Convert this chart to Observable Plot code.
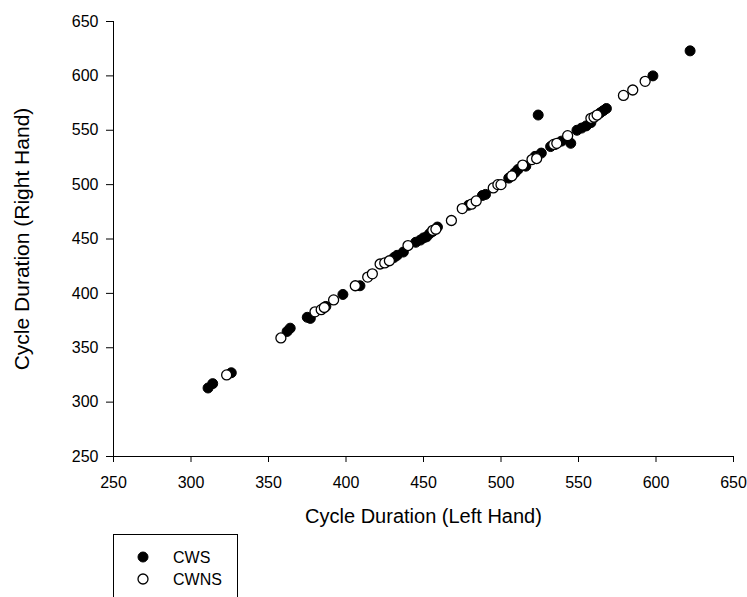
<!DOCTYPE html>
<html>
<head>
<meta charset="utf-8">
<script src="https://cdn.jsdelivr.net/npm/d3@7"></script>
<script src="https://cdn.jsdelivr.net/npm/@observablehq/plot@0.6"></script>
<style>
  html, body { margin: 0; padding: 0; background: #fff; }
  #chart { position: relative; width: 747px; height: 597px; overflow: hidden; }
</style>
</head>
<body>
<div id="chart"></div>
<script>
// ---- Data ----
const seriesNames = ["CWS", "CWNS"];
const xTicks = [250, 300, 350, 400, 450, 500, 550, 600, 650];
const yTicks = [250, 300, 350, 400, 450, 500, 550, 600, 650];
const xTitle = "Cycle Duration (Left Hand)";
const yTitle = "Cycle Duration (Right Hand)";

const cwsLeft  = [311, 314, 326, 362, 364, 375, 377, 387, 398, 409, 431, 433, 437, 445, 448, 450, 452, 454, 456, 459, 479, 488, 490, 505, 509, 511, 516, 522, 526, 524, 532, 535, 539, 545, 549, 552, 555, 558, 564, 566, 568, 598, 622];
const cwsRight = [313, 317, 327, 365, 368, 378, 377, 388, 399, 407, 433, 435, 438, 447, 449, 451, 452, 455, 457, 461, 481, 490, 491, 506, 511, 514, 517, 526, 529, 564, 535, 537, 540, 538, 550, 552, 554, 557, 566, 568, 570, 600, 623];

const cwnsLeft  = [323, 358, 380, 384, 386, 392, 406, 414, 417, 422, 425, 428, 440, 456, 458, 468, 475, 481, 484, 495, 498, 500, 507, 514, 520, 523, 534, 536, 543, 558, 560, 562, 579, 585, 593];
const cwnsRight = [325, 359, 383, 385, 387, 394, 407, 415, 418, 427, 428, 430, 444, 458, 459, 467, 478, 482, 485, 497, 500, 500, 508, 518, 523, 524, 537, 538, 545, 561, 562, 564, 582, 587, 595];

const cws  = cwsLeft.map((l, i) => ({left: l, right: cwsRight[i]}));
const cwns = cwnsLeft.map((l, i) => ({left: l, right: cwnsRight[i]}));

const FONT = "'Liberation Sans', Arial, Helvetica, sans-serif";

const plot = Plot.plot({
  width: 747,
  height: 597,
  marginLeft: 113,
  marginRight: 14,
  marginTop: 21,
  marginBottom: 141,
  style: {fontFamily: FONT, fontSize: "16px", color: "#000", background: "#fff"},
  x: {domain: [250, 650]},
  y: {domain: [250, 650]},
  marks: [
    Plot.axisX({ticks: xTicks, tickSize: 6, tickPadding: 14, label: null, stroke: "#000", fill: "#000"}),
    Plot.axisY({ticks: yTicks, tickSize: 7, tickPadding: 8, label: null, stroke: "#000", fill: "#000"}),
    Plot.ruleX([250], {stroke: "#000", strokeWidth: 1}),
    Plot.ruleY([250], {stroke: "#000", strokeWidth: 1}),
    Plot.dot(cws, {x: "left", y: "right", r: 5, fill: "#000", stroke: "#000", strokeWidth: 1}),
    Plot.dot(cwns, {x: "left", y: "right", r: 5, fill: "#fff", stroke: "#000", strokeWidth: 1.3}),
    Plot.text([xTitle], {frameAnchor: "bottom", dy: 66, textAnchor: "middle", fontSize: 20, fill: "#000"}),
    Plot.text([yTitle], {frameAnchor: "left", dx: -91, rotate: -90, textAnchor: "middle", fontSize: 21, fill: "#000"})
  ]
});

document.getElementById("chart").appendChild(plot);

// ---- Legend (box below the x axis, clipped by the bottom edge) ----
const svg = d3.select(plot);
const lg = svg.append("g").attr("font-family", FONT).attr("font-size", 16).attr("text-anchor", "start");
lg.append("rect").attr("x", 113.5).attr("y", 534.5).attr("width", 124).attr("height", 90)
  .attr("fill", "none").attr("stroke", "#000").attr("stroke-width", 1);
seriesNames.forEach((name, i) => {
  const cy = 557 + i * 22;
  lg.append("circle").attr("cx", 143).attr("cy", cy).attr("r", 5)
    .attr("fill", i === 0 ? "#000" : "#fff").attr("stroke", "#000").attr("stroke-width", i === 0 ? 1 : 1.3);
  lg.append("text").attr("x", 173).attr("y", cy).attr("dy", "0.35em").attr("text-anchor", "start")
    .attr("fill", "#000").text(name);
});
</script>
</body>
</html>
